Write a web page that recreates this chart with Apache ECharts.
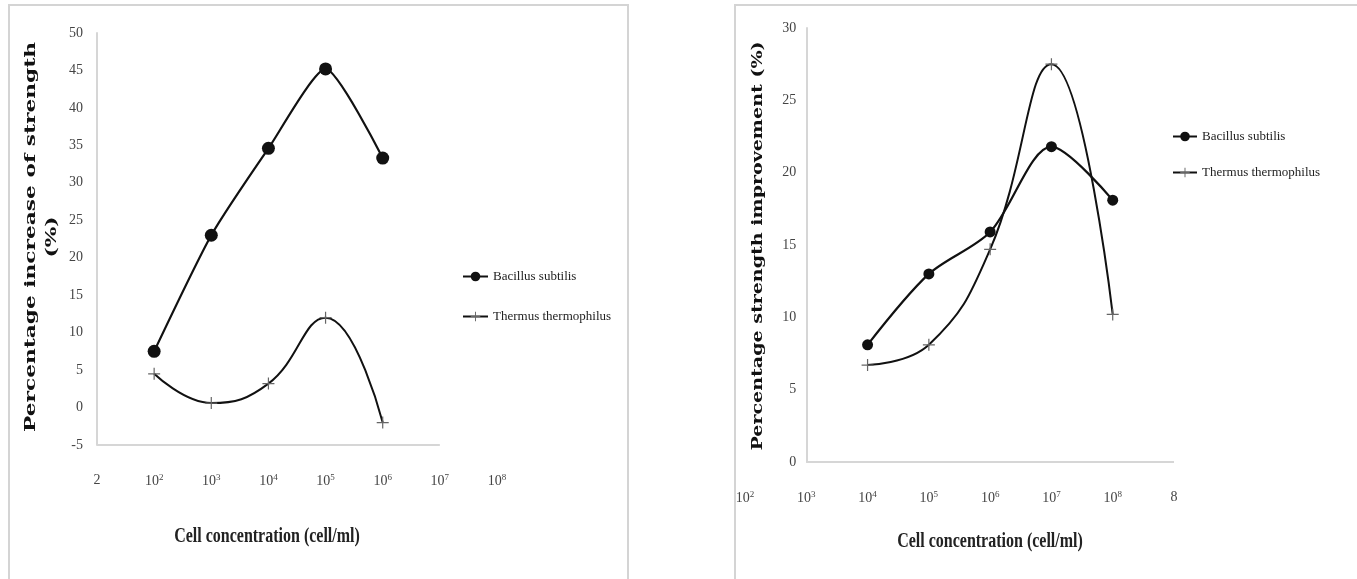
<!DOCTYPE html>
<html><head><meta charset="utf-8">
<script src="https://cdn.jsdelivr.net/npm/echarts@6/dist/echarts.min.js"></script>
<style>html,body{margin:0;padding:0;background:#fff}#c{width:1357px;height:579px}</style>
</head><body><div id="c"></div>
<script>
// ---- data ----
const leftTicks = ['2','10^2','10^3','10^4','10^5','10^6','10^7','10^8'];
const leftCats = ['10^2','10^3','10^4','10^5','10^6'];
const leftBacillus = [7.5, 23, 34.6, 45.2, 33.3];
const leftThermus = [4.5, 0.6, 3.2, 12, -2];

const rightTicks = ['10^2','10^3','10^4','10^5','10^6','10^7','10^8','8'];
const rightCats = ['10^4','10^5','10^6','10^7','10^8'];
const rightBacillus = [8.1, 13, 15.9, 21.8, 18.1];
const rightThermus = [6.7, 8.1, 14.7, 27.5, 10.2];

const seriesNames = ['Bacillus subtilis', 'Thermus thermophilus'];
const leftYName = 'Percentage increase of strength\n(%)';
const rightYName = 'Percentage strength improvement (%)';
const xTitle = 'Cell concentration (cell/ml)';

// ---- helpers ----
const SERIF = 'Liberation Serif';
const fmt = s => s.replace(/\^(\d+)/, '{s|$1}');
const leftPts = vals => leftCats.map((c, i) => [leftTicks.indexOf(c), vals[i]]);
const rightPts = vals => rightCats.map((c, i) => [rightTicks.indexOf(c) - 1, vals[i]]);
const plus = 'path://M4.5,0h1v4.5h4.5v1h-4.5v4.5h-1v-4.5h-4.5v-1h4.5z';
const axisGrey = '#d6d6d6';

function xAxisCfg(gridIndex, ticks, min, max) {
  return {
    type: 'value', gridIndex, min, max, interval: 1,
    axisLine: {show: false}, axisTick: {show: false}, splitLine: {show: false},
    axisLabel: {
      margin: 28, color: '#444', fontFamily: SERIF, fontSize: 14,
      formatter: v => fmt(ticks[v - min] || ''),
      rich: {s: {fontSize: 9, fontFamily: SERIF, color: '#444', padding: [0, 0, 8, 0]}}
    }
  };
}
function yAxisCfg(gridIndex, min, max, margin, offset) {
  return {
    type: 'value', gridIndex, min, max, interval: 5, offset,
    axisLine: {show: true, onZero: false, lineStyle: {color: axisGrey, width: 2}},
    axisTick: {show: false}, splitLine: {show: false},
    axisLabel: {margin, color: '#444', fontFamily: SERIF, fontSize: 14}
  };
}
function baseLine(xi, yi, x0, x1, y) {
  return {
    type: 'line', xAxisIndex: xi, yAxisIndex: yi, data: [], silent: true,
    markLine: {symbol: 'none', silent: true, label: {show: false},
      lineStyle: {color: axisGrey, width: 2, type: 'solid'},
      data: [[{coord: [x0, y]}, {coord: [x1, y]}]]}
  };
}
function bac(xi, yi, pts, size, smooth) {
  return {name: seriesNames[0], type: 'line', xAxisIndex: xi, yAxisIndex: yi, data: pts,
    smooth, symbol: 'circle', symbolSize: size, showSymbol: true,
    itemStyle: {color: '#111'}, lineStyle: {color: '#111', width: 2.2}, z: 3};
}
function thr(xi, yi, pts) {
  return {name: seriesNames[1], type: 'line', xAxisIndex: xi, yAxisIndex: yi, data: pts,
    smooth: 0.45, symbol: plus, symbolSize: 12, showSymbol: true,
    itemStyle: {color: '#666'}, lineStyle: {color: '#111', width: 2}, z: 2};
}
function yTitle(x, y, text, sx) {
  return {type: 'text', x, y, rotation: Math.PI / 2, scaleX: sx, scaleY: 1, silent: true,
    style: {text, fontFamily: 'DejaVu Serif', fontWeight: 'bold', fontSize: 14, lineHeight: 21,
      fill: '#111', textAlign: 'center', textVerticalAlign: 'middle'}};
}
function xTitleG(x, y) {
  return {type: 'text', x, y, scaleX: 1, scaleY: 1.25, silent: true,
    style: {text: xTitle, fontFamily: SERIF, fontWeight: 'bold', fontSize: 16, fill: '#222',
      textAlign: 'center', textVerticalAlign: 'middle'}};
}

const chart = echarts.init(document.getElementById('c'));
chart.setOption({
  backgroundColor: '#fff',
  animation: false,
  grid: [
    {left: 97, right: 1357 - 497, top: 33, bottom: 579 - 445},
    {left: 745, right: 1357 - 1174, top: 28, bottom: 579 - 462}
  ],
  xAxis: [xAxisCfg(0, leftTicks, 0, 7), xAxisCfg(1, rightTicks, -1, 6)],
  yAxis: [yAxisCfg(0, -5, 50, 14, 0), yAxisCfg(1, 0, 30, 10, -61.3)],
  legend: [
    {data: seriesNames, orient: 'vertical', left: 462, top: 270, padding: 0, itemWidth: 25, itemHeight: 12, itemGap: 27,
     textStyle: {fontFamily: SERIF, fontSize: 13, color: '#222'}},
    {data: seriesNames, orient: 'vertical', left: 1172, top: 130, padding: 0, itemWidth: 24, itemHeight: 12, itemGap: 23,
     textStyle: {fontFamily: SERIF, fontSize: 13, color: '#222'}}
  ],
  graphic: [
    {type: 'rect', shape: {x: 9, y: 5, width: 619, height: 590}, style: {fill: 'none', stroke: '#d4d4d4', lineWidth: 2}, silent: true},
    {type: 'rect', shape: {x: 735, y: 5, width: 640, height: 590}, style: {fill: 'none', stroke: '#d4d4d4', lineWidth: 2}, silent: true},
    yTitle(42, 237, leftYName, 1.55),
    yTitle(758, 246, rightYName, 1.36),
    xTitleG(267, 537),
    xTitleG(990, 542)
  ],
  series: [
    baseLine(0, 0, 0, 6, -5),
    baseLine(1, 1, 0, 6, 0),
    bac(0, 0, leftPts(leftBacillus), 13, 0.2),
    thr(0, 0, leftPts(leftThermus)),
    bac(1, 1, rightPts(rightBacillus), 11, 0.3),
    thr(1, 1, rightPts(rightThermus))
  ]
});
</script></body></html>
